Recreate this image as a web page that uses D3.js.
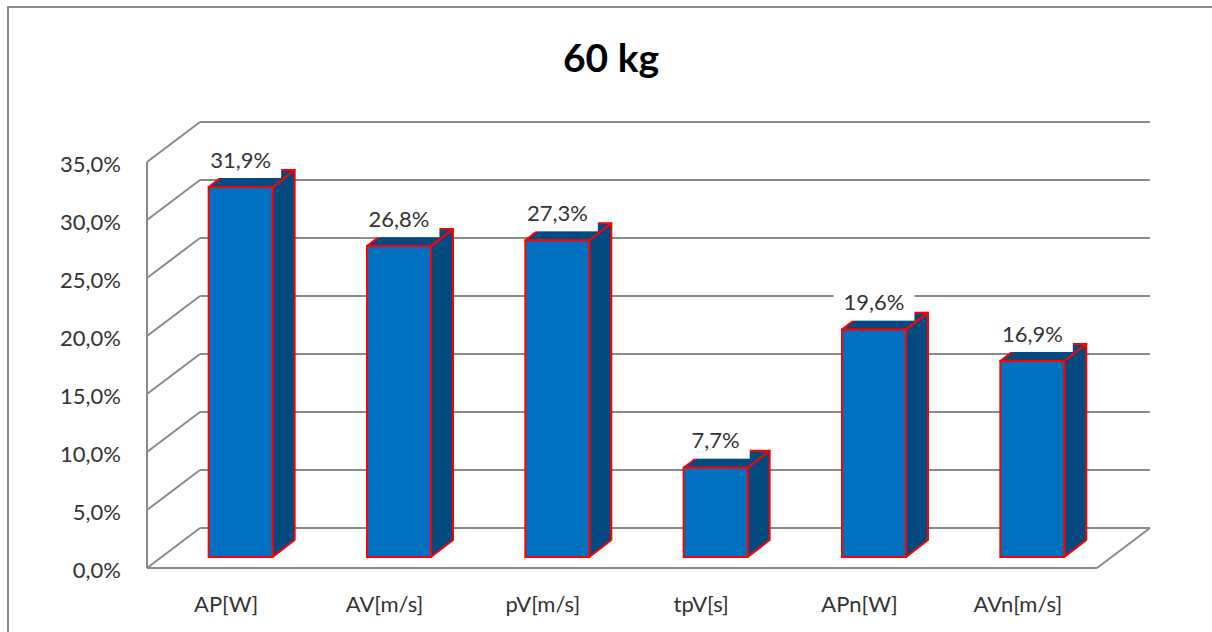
<!DOCTYPE html>
<html>
<head>
<meta charset="utf-8">
<script src="https://cdn.jsdelivr.net/npm/d3@7"></script>
<style>
html,body{margin:0;padding:0;background:#fff;}
svg{display:block;}
text{font-family:Lato,"Open Sans",sans-serif;}
</style>
</head>
<body>
<svg id="chart" width="1212" height="632"></svg>
<script>
const title = "60 kg";
const categories = ["AP[W]", "AV[m/s]", "pV[m/s]", "tpV[s]", "APn[W]", "AVn[m/s]"];
const values = [31.9, 26.8, 27.3, 7.7, 19.6, 16.9];
const tickValues = [0, 5, 10, 15, 20, 25, 30, 35];

const svg = d3.select("#chart");
const fmt = v => v.toFixed(1).replace(".", ",") + "%";

// frame
svg.append("rect").attr("x", 8).attr("y", 7).attr("width", 1230).attr("height", 660)
  .attr("fill", "#fff").attr("stroke", "#8a8a8a").attr("stroke-width", 2);

// title
svg.append("text").attr("x", 611).attr("y", 72).attr("text-anchor", "middle")
  .attr("font-size", 39).attr("font-weight", 700).attr("fill", "#000").text(title);

// 3D geometry
const floorDX = 53, floorDY = -40;
const barOffX = 14.5, barOffY = -11;
const barDX = 22, barDY = -17;
const barW = 64;

const x = d3.scaleBand().domain(categories).range([147, 1097]);
const y = d3.scaleLinear().domain([0, 35]).range([568, 162]);

const grid = svg.append("g").attr("stroke", "#8a8a8a").attr("stroke-width", 2).attr("fill", "none");
const x0 = x.range()[0], x1 = x.range()[1];
tickValues.forEach(t => {
  grid.append("line").attr("x1", x0 + floorDX).attr("x2", x1 + floorDX)
    .attr("y1", y(t) + floorDY).attr("y2", y(t) + floorDY);
  grid.append("line").attr("x1", x0).attr("y1", y(t))
    .attr("x2", x0 + floorDX).attr("y2", y(t) + floorDY);
});
// left wall front edge
grid.append("line").attr("x1", x0).attr("x2", x0).attr("y1", y(35)).attr("y2", y(0));
// floor front edge and right edge
grid.append("line").attr("x1", x0).attr("x2", x1).attr("y1", y(0)).attr("y2", y(0));
grid.append("line").attr("x1", x1).attr("y1", y(0)).attr("x2", x1 + floorDX).attr("y2", y(0) + floorDY);

// y tick labels
svg.append("g").selectAll("text").data(tickValues).join("text")
  .attr("x", 121).attr("y", d => y(d) + 2).attr("dy", "0.35em")
  .attr("text-anchor", "end").attr("font-size", 22).attr("fill", "#333")
  .text(d => fmt(d));

// category labels
svg.append("g").selectAll("text").data(categories).join("text")
  .attr("x", d => x(d) + x.bandwidth() / 2).attr("y", 604).attr("dy", "0.35em")
  .attr("text-anchor", "middle").attr("font-size", 22).attr("fill", "#333")
  .text(d => d);

// bars
const data = categories.map((c, i) => ({c, v: values[i]}));
const bars = svg.append("g").selectAll("g").data(data).join("g");
const bx = d => x(d.c) + (x.bandwidth() - barW) / 2 + barOffX;
const byTop = d => y(d.v) + barOffY;
const byBot = d => y(0) + barOffY;
const poly = pts => pts.map(p => p.join(",")).join(" ");

bars.append("polygon") // side
  .attr("points", d => poly([
    [bx(d) + barW, byTop(d)], [bx(d) + barW + barDX, byTop(d) + barDY],
    [bx(d) + barW + barDX, byBot(d) + barDY], [bx(d) + barW, byBot(d)]]))
  .attr("fill", "#034a80").attr("stroke", "#ff0000").attr("stroke-width", 2).attr("stroke-linejoin", "round");
bars.append("polygon") // top
  .attr("points", d => poly([
    [bx(d), byTop(d)], [bx(d) + barDX, byTop(d) + barDY],
    [bx(d) + barW + barDX, byTop(d) + barDY], [bx(d) + barW, byTop(d)]]))
  .attr("fill", "#034a80").attr("stroke", "#ff0000").attr("stroke-width", 2).attr("stroke-linejoin", "round");
bars.append("rect") // front
  .attr("x", bx).attr("y", byTop).attr("width", barW).attr("height", d => byBot(d) - byTop(d))
  .attr("fill", "#0070c0").attr("stroke", "#ff0000").attr("stroke-width", 2);

// data labels with white background
const labels = svg.append("g").selectAll("g").data(data).join("g")
  .attr("transform", d => `translate(${bx(d) + barW / 2},${byTop(d) - 27})`);
labels.append("text").attr("text-anchor", "middle").attr("dy", "0.35em")
  .attr("font-size", 22).attr("fill", "#333").text(d => fmt(d.v));
labels.each(function() {
  const g = d3.select(this);
  const bb = g.select("text").node().getBBox();
  g.insert("rect", "text").attr("x", bb.x - 10).attr("y", -18)
    .attr("width", bb.width + 20).attr("height", 36).attr("fill", "#fff");
});
</script>
</body>
</html>
